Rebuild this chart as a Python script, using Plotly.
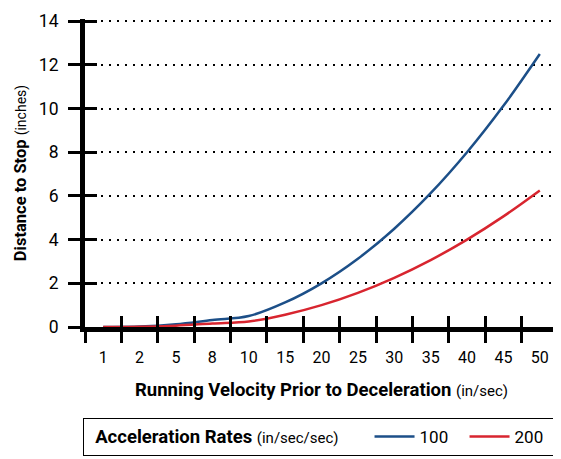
import plotly.graph_objects as go

# running velocity prior to deceleration (in/sec)
velocity = ['1', '2', '5', '8', '10', '15', '20', '25', '30', '35', '40', '45', '50']
# distance to stop (inches) for each acceleration rate
dist_100 = [0.005, 0.02, 0.125, 0.32, 0.5, 1.125, 2.0, 3.125, 4.5, 6.125, 8.0, 10.125, 12.5]
dist_200 = [0.0025, 0.01, 0.0625, 0.16, 0.25, 0.5625, 1.0, 1.5625, 2.25, 3.0625, 4.0, 5.0625, 6.25]
y_ticks = [0, 2, 4, 6, 8, 10, 12, 14]

FONT = "Roboto, sans-serif"
NB = '\u00a0'

fig = go.Figure()
fig.add_trace(go.Scatter(x=velocity, y=dist_100, name='100', mode='lines',
                         line=dict(color='#1c4f88', width=2.5, shape='spline')))
fig.add_trace(go.Scatter(x=velocity, y=dist_200, name='200', mode='lines',
                         line=dict(color='#d8252f', width=2.5, shape='spline')))
# invisible trace so the overlay axes (inner half of the crossing ticks) get drawn
fig.add_trace(go.Scatter(x=velocity, y=dist_100, xaxis='x2', yaxis='y2', mode='lines',
                         line=dict(width=0), opacity=0, showlegend=False, hoverinfo='skip'))

# page body adds 8px, so the figure is sized 8px smaller
fig.update_layout(
    width=553, height=451,
    margin=dict(l=77, r=3, t=7, b=132),
    paper_bgcolor='white', plot_bgcolor='white',
    font=dict(family=FONT, color='black', size=16),
    showlegend=True,
    xaxis=dict(
        type='category', categoryorder='array', categoryarray=velocity,
        range=[-0.5, 12.5], tickson='boundaries',
        ticks='outside', ticklen=11, tickwidth=2.5, tickcolor='black',
        showline=True, linecolor='black', linewidth=5,
        showgrid=False, zeroline=False,
        tickfont=dict(size=16), ticklabelstandoff=12,
        title=dict(text='<b>Running Velocity Prior to Deceleration</b> <span style="font-size:15px">(in/sec)</span>',
                   font=dict(size=18.5), standoff=18),
    ),
    xaxis2=dict(
        type='category', categoryorder='array', categoryarray=velocity,
        range=[-0.5, 12.5], tickson='boundaries', overlaying='x', anchor='y2',
        ticks='inside', ticklen=11, tickwidth=2.5, tickcolor='black',
        showticklabels=False, showgrid=False, zeroline=False, showline=False,
    ),
    yaxis=dict(
        range=[0, 14.1], tickvals=y_ticks,
        ticks='outside', ticklen=12, tickwidth=2.5, tickcolor='black',
        showline=True, linecolor='black', linewidth=5,
        showgrid=True, gridcolor='black', gridwidth=2, griddash='2px,6px',
        zeroline=False, tickfont=dict(size=17.5), ticklabelstandoff=6,
        ticklabeloverflow='allow',
        title=dict(text='<b>Distance to Stop</b> <span style="font-size:14px">(inches)</span>',
                   font=dict(size=16.5), standoff=10),
    ),
    yaxis2=dict(
        range=[0, 14.1], tickvals=y_ticks, overlaying='y', anchor='x2',
        ticks='inside', ticklen=12, tickwidth=2.5, tickcolor='black',
        showticklabels=False, showgrid=False, zeroline=False, showline=False,
    ),
    legend=dict(
        orientation='h', x=-0.002, xanchor='left', y=-0.295, yanchor='top',
        bordercolor='black', borderwidth=1, bgcolor='white',
        font=dict(size=17), entrywidth=40, itemwidth=40,
        title=dict(text=NB * 2 + '<b>Acceleration Rates</b> <span style="font-size:15px">(in/sec/sec)</span>' + NB * 5,
                   font=dict(size=18.5), side='left'),
    ),
)

fig.write_html("out.html")
